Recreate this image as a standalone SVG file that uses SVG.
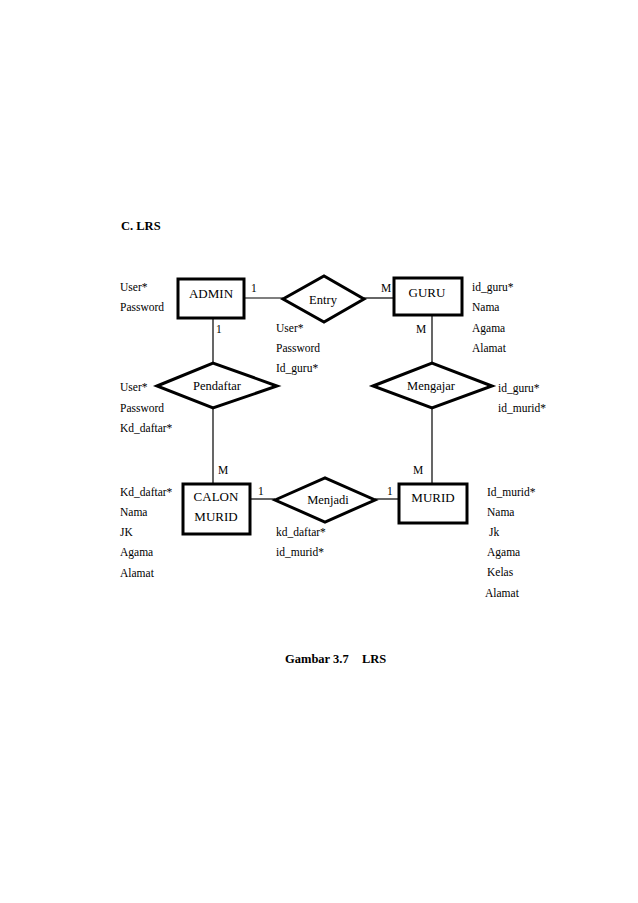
<svg xmlns="http://www.w3.org/2000/svg" width="638" height="903" viewBox="0 0 638 903">
<style>
text{font-family:"Liberation Serif","Times New Roman",serif;fill:#000}
.a{font-size:11.5px}
.e{font-size:13px;text-anchor:middle}
.r{font-size:12.5px;text-anchor:middle}
.c{font-size:11.5px}
.h{font-size:12.5px;font-weight:bold}
.box{fill:#fff;stroke:#000;stroke-width:3}
.dia{fill:#fff;stroke:#000;stroke-width:3;stroke-linejoin:miter}
.ln{stroke:#000;stroke-width:1.2;fill:none}
</style>
<rect width="638" height="903" fill="#fff"/>
<text class="h" x="121" y="230">C. LRS</text>
<g id="connectors">
<line class="ln" x1="244" y1="298" x2="283" y2="298"/>
<line class="ln" x1="364" y1="298" x2="394" y2="298"/>
<line class="ln" x1="213" y1="318" x2="213" y2="363"/>
<line class="ln" x1="213" y1="408" x2="213" y2="484"/>
<line class="ln" x1="432" y1="315" x2="432" y2="363"/>
<line class="ln" x1="432" y1="408" x2="432" y2="484"/>
<line class="ln" x1="250" y1="499" x2="275" y2="499"/>
<line class="ln" x1="375" y1="499" x2="399" y2="499"/>
<text class="c" x="251" y="292">1</text>
<text class="c" x="381" y="292">M</text>
<text class="c" x="216" y="333">1</text>
<text class="c" x="416" y="333">M</text>
<text class="c" x="218" y="474">M</text>
<text class="c" x="413" y="474">M</text>
<text class="c" x="258" y="495">1</text>
<text class="c" x="387" y="495">1</text>
</g>
<g id="admin">
<rect class="box" x="178" y="279" width="66" height="39"/>
<text class="e" x="211" y="298">ADMIN</text>
<text class="a" x="120" y="291">User*</text>
<text class="a" x="120" y="311">Password</text>
</g>
<g id="entry">
<polygon class="dia" points="283,299 324,276 364,299 324,322"/>
<text class="r" x="323" y="304">Entry</text>
<text class="a" x="276" y="332">User*</text>
<text class="a" x="276" y="352">Password</text>
<text class="a" x="276" y="372">Id_guru*</text>
</g>
<g id="guru">
<rect class="box" x="394" y="278" width="68" height="37"/>
<text class="e" x="427" y="297">GURU</text>
<text class="a" x="472" y="291">id_guru*</text>
<text class="a" x="472" y="311">Nama</text>
<text class="a" x="472" y="332">Agama</text>
<text class="a" x="472" y="352">Alamat</text>
</g>
<g id="pendaftar">
<polygon class="dia" points="157,386 213,363 277,386 213,408"/>
<text class="r" x="217" y="390">Pendaftar</text>
<text class="a" x="120" y="391">User*</text>
<text class="a" x="120" y="412">Password</text>
<text class="a" x="120" y="432">Kd_daftar*</text>
</g>
<g id="mengajar">
<polygon class="dia" points="373,386 432,363 492,386 432,408"/>
<text class="r" x="431" y="390">Mengajar</text>
<text class="a" x="498" y="392">id_guru*</text>
<text class="a" x="498" y="412">id_murid*</text>
</g>
<g id="calon-murid">
<rect class="box" x="183" y="484" width="67" height="50"/>
<text class="e" x="216" y="501">CALON</text>
<text class="e" x="216" y="521">MURID</text>
<text class="a" x="120" y="496">Kd_daftar*</text>
<text class="a" x="120" y="516">Nama</text>
<text class="a" x="120" y="536">JK</text>
<text class="a" x="120" y="556">Agama</text>
<text class="a" x="120" y="577">Alamat</text>
</g>
<g id="menjadi">
<polygon class="dia" points="275,500 325,478 375,500 325,522"/>
<text class="r" x="328" y="504">Menjadi</text>
<text class="a" x="276" y="536">kd_daftar*</text>
<text class="a" x="276" y="556">id_murid*</text>
</g>
<g id="murid">
<rect class="box" x="399" y="484" width="68" height="39"/>
<text class="e" x="433" y="502">MURID</text>
<text class="a" x="487" y="496">Id_murid*</text>
<text class="a" x="487" y="516">Nama</text>
<text class="a" x="489" y="536">Jk</text>
<text class="a" x="487" y="556">Agama</text>
<text class="a" x="487" y="576">Kelas</text>
<text class="a" x="485" y="597">Alamat</text>
</g>
<text class="h" x="285" y="663">Gambar 3.7</text>
<text class="h" x="362" y="663">LRS</text>
</svg>
